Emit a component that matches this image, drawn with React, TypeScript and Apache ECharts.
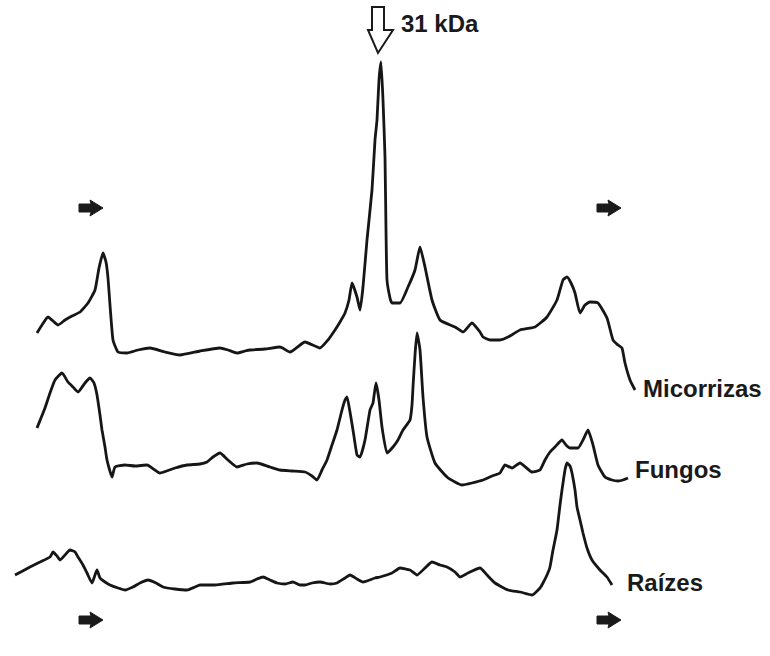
import React, { useEffect, useRef } from "react";
import * as echarts from "echarts";

// Densitometric scans: [migration position, scan depth]
const micorrizas: number[][] = [
  [37,333],[42,325],[48,317],[53,321],[58,325],[65,320],[72,316],[80,312],[88,303],[95,290],[99,268],[103,253],[106,262],[108,278],[110,305],[113,340],[118,352],[127,353],[138,350],[150,348],[165,352],[180,355],[200,351],[220,348],[228,350],[237,353],[245,351],[250,350],[265,349],[280,347],[290,352],[305,342],[320,348],[328,340],[335,330],[340,322],[345,313],[349,300],[352,283],[357,297],[360,310],[363,287],[367,240],[372,190],[375,140],[377,120],[379,80],[381,62],[383,100],[385,157],[386,230],[387,280],[390,298],[392,303],[400,303],[408,287],[415,270],[420,247],[425,267],[432,300],[440,320],[455,327],[463,332],[472,323],[480,332],[483,337],[490,340],[500,340],[510,336],[520,330],[535,327],[547,317],[557,300],[563,280],[567,277],[571,283],[575,293],[580,313],[585,305],[590,302],[598,303],[607,318],[613,340],[618,345],[622,348],[625,363],[630,380],[635,390]
];
const fungos: number[][] = [
  [37,428],[41,418],[45,408],[50,393],[55,380],[62,373],[68,382],[73,387],[78,392],[85,383],[90,378],[94,383],[97,395],[100,415],[102,430],[105,447],[107,460],[112,477],[115,467],[125,465],[135,466],[147,465],[160,473],[175,468],[187,465],[200,464],[207,462],[213,457],[220,453],[228,460],[237,467],[247,464],[257,463],[270,467],[280,470],[292,471],[305,472],[312,476],[317,480],[322,470],[327,460],[332,445],[337,430],[342,410],[345,400],[347,397],[350,412],[353,430],[357,455],[360,457],[365,440],[370,410],[373,403],[376,383],[379,400],[382,427],[387,453],[393,447],[398,440],[403,430],[410,420],[412,405],[413,387],[415,355],[417,333],[420,350],[423,397],[427,437],[435,463],[447,477],[455,482],[462,485],[472,483],[483,480],[492,476],[500,473],[505,465],[512,468],[520,463],[532,472],[540,470],[545,460],[550,452],[555,447],[562,440],[566,445],[570,448],[578,448],[583,440],[588,430],[593,445],[598,465],[605,477],[612,480],[618,481],[623,480],[628,478]
];
const raizes: number[][] = [
  [15,575],[30,567],[40,562],[50,557],[53,552],[57,556],[60,560],[65,555],[70,550],[75,552],[78,557],[83,565],[87,573],[92,583],[95,575],[97,570],[100,578],[105,582],[110,585],[118,588],[125,590],[133,587],[140,583],[148,580],[156,583],[163,587],[175,589],[187,590],[195,587],[200,585],[215,585],[233,583],[250,582],[257,579],[263,577],[270,580],[277,583],[285,584],[293,582],[300,585],[305,585],[312,583],[320,582],[330,584],[337,583],[345,578],[350,575],[357,579],[363,582],[375,578],[380,577],[392,573],[400,568],[410,570],[417,575],[425,568],[432,562],[440,565],[447,567],[455,572],[460,577],[468,573],[480,568],[487,575],[495,583],[508,590],[520,592],[532,595],[540,588],[543,583],[547,575],[550,567],[553,550],[557,530],[560,505],[562,490],[565,470],[567,463],[570,466],[572,473],[575,490],[577,507],[580,520],[583,533],[587,548],[592,560],[600,570],[607,577],[612,585]
];

const seriesNames = ["Micorrizas", "Fungos", "Raízes"];
const markerLabel = "31 kDa";

const FONT = "'Liberation Sans', Arial, sans-serif";

function filledArrow(x: number, y: number) {
  return {
    type: "polygon",
    shape: {
      points: [
        [x, y - 4], [x + 12, y - 4], [x + 11, y - 8], [x + 24, y],
        [x + 11, y + 8], [x + 12, y + 4], [x, y + 4],
      ],
    },
    style: { fill: "#1a1a1a", stroke: "#1a1a1a", lineWidth: 1 },
  };
}

export default function App() {
  const ref = useRef<HTMLDivElement>(null);
  useEffect(() => {
    if (!ref.current) return;
    const chart = echarts.init(ref.current, null, { renderer: "svg" });
    const lineStyle = { color: "#161616", width: 2.8 };
    chart.setOption({
      animation: false,
      backgroundColor: "#ffffff",
      grid: { left: 0, right: 0, top: 0, bottom: 0 },
      xAxis: { type: "value", min: 0, max: 770, show: false },
      yAxis: { type: "value", min: 0, max: 656, inverse: true, show: false },
      series: [micorrizas, fungos, raizes].map((d, i) => ({
        name: seriesNames[i],
        type: "line",
        data: d,
        showSymbol: false,
        smooth: 0.15,
        lineStyle,
      })),
      graphic: [
        filledArrow(79, 208),
        filledArrow(597, 208),
        filledArrow(79, 620),
        filledArrow(597, 620),
        {
          type: "polygon",
          shape: {
            points: [[372, 7], [384, 7], [384, 30], [393, 30], [378, 53], [368, 30], [372, 30]],
          },
          style: { fill: "#ffffff", stroke: "#1a1a1a", lineWidth: 2 },
        },
        {
          type: "text", x: 401, y: 35,
          style: { text: markerLabel, font: `bold 24px ${FONT}`, fill: "#1a1a1a", textVerticalAlign: "bottom" },
        },
        {
          type: "text", x: 643, y: 400,
          style: { text: seriesNames[0], font: `bold 24px ${FONT}`, fill: "#1a1a1a", textVerticalAlign: "bottom" },
        },
        {
          type: "text", x: 635, y: 481,
          style: { text: seriesNames[1], font: `bold 24px ${FONT}`, fill: "#1a1a1a", textVerticalAlign: "bottom" },
        },
        {
          type: "text", x: 627, y: 594,
          style: { text: seriesNames[2], font: `bold 24px ${FONT}`, fill: "#1a1a1a", textVerticalAlign: "bottom" },
        },
      ],
    });
    return () => chart.dispose();
  }, []);
  return (
    <div
      ref={ref}
      style={{ position: "fixed", left: 0, top: 0, width: 770, height: 656, background: "#fff" }}
    />
  );
}
